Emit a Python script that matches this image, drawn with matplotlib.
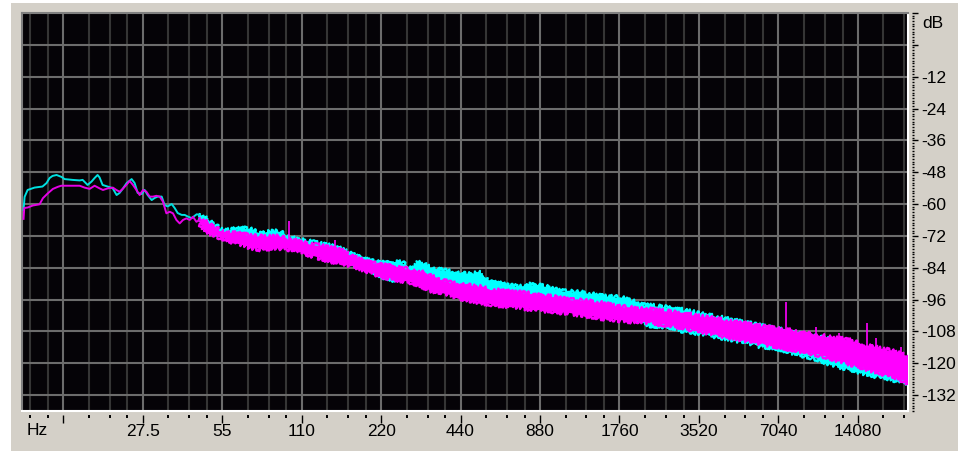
import matplotlib
matplotlib.use("Agg")
import matplotlib.pyplot as plt
import numpy as np
from matplotlib.patches import Rectangle
from matplotlib import transforms
from matplotlib.ticker import FixedLocator, NullFormatter

plt.rcParams['font.family'] = ['Liberation Sans', 'DejaVu Sans']
plt.rcParams['axes.unicode_minus'] = False

# ---------------- data ----------------
octave_freqs = [13.75, 27.5, 55, 110, 220, 440, 880, 1760, 3520, 7040, 14080]
octave_labels = ['', '27.5', '55', '110', '220', '440', '880', '1760', '3520', '7040', '14080']
db_ticks = [12, 0, -12, -24, -36, -48, -60, -72, -84, -96, -108, -120, -132]
db_labels = ['', '', '-12', '-24', '-36', '-48', '-60', '-72', '-84', '-96', '-108', '-120', '-132']

# low-frequency part (thin traces)
cyan_lf_freq = [9.73, 9.82, 10.08, 10.71, 11.48, 11.89, 12.21, 12.53, 12.98, 13.56,
                13.92, 14.92, 15.87, 16.29, 17.01, 17.62, 18.08, 18.56, 18.89, 19.39,
                20.25, 21.16, 21.91, 22.49, 23.09, 23.92, 24.98, 25.64, 26.33, 27.26,
                27.98, 28.73, 29.75, 30.54, 31.35, 32.46, 33.32, 34.20, 35.42, 36.36,
                37.33, 38.65, 39.68, 40.73, 42.18, 44.06, 45.23]
cyan_lf_db = [-62.2, -57.3, -54.7, -53.8, -53.4, -52.1, -50.2, -49.4, -49.05, -49.8,
              -50.6, -50.9, -51.1, -50.9, -52.8, -51.5, -50.2, -49.05, -50.0, -52.8,
              -53.4, -54.0, -56.6, -55.8, -54.3, -52.1, -50.6, -52.1, -55.8, -56.2,
              -54.7, -56.6, -58.5, -57.7, -57.2, -57.2, -60.4, -60.9, -60.0, -61.5,
              -63.4, -64.1, -64.1, -64.7, -65.3, -63.85, -64.1]

mag_lf_freq = [9.73, 9.79, 10.10, 10.55, 11.19, 11.52, 12.03, 12.57, 13.13, 13.52,
               14.54, 15.87, 16.57, 17.31, 18.08, 18.89, 19.45, 20.29, 21.21, 21.86,
               22.49, 23.10, 23.85, 24.55, 25.27, 26.03, 26.79, 27.6, 28.40, 29.23,
               30.09, 30.99, 31.90, 32.83, 33.82, 34.81, 35.83, 36.91, 37.99, 39.09,
               40.27, 41.45, 42.66, 43.95, 45.24]
mag_lf_db = [-65.6, -61.5, -61.3, -60.55, -60.1, -57.8, -55.95, -54.3, -53.5, -53.1,
             -53.1, -53.1, -53.8, -54.3, -53.1, -54.1, -54.7, -54.1, -53.8, -54.7,
             -55.35, -54.3, -52.8, -51.3, -52.8, -54.7, -56.6, -54.7, -55.35, -57.2,
             -57.2, -56.9, -57.2, -59.1, -63.5, -62.9, -63.5, -66.0, -67.3, -66.0,
             -65.4, -66.0, -64.8, -66.7, -66.0]

# higher-frequency part (noisy bands: upper / lower envelope)
band_freq = [45.2, 49.4, 53.9, 58.8, 64.2, 70.0, 76.4, 83.4, 91.0, 99.3,
             108.4, 118.3, 129.1, 140.9, 153.7, 167.8, 183.1, 199.8, 218.0, 237.9,
             259.7, 283.4, 309.2, 337.5, 368.3, 401.9, 438.6, 478.7, 522.4, 570.1,
             622.1, 678.9, 740.9, 808.5, 882.3, 962.9, 1051, 1147, 1251, 1365,
             1490, 1626, 1775, 1937, 2114, 2307, 2517, 2747, 2998, 3272,
             3571, 3897, 4252, 4641, 5064, 5527, 6031, 6582, 7183, 7839,
             8555, 9336, 10190, 11120, 12130, 13240, 14450, 15770, 17210, 18780,
             20490, 22050]
cyan_band_hi = [-63.8, -66.8, -69.4, -69.8, -69.4, -69.4, -71.3, -70.5, -70.5, -72.8,
                -73.6, -74.3, -75.1, -75.8, -76.9, -78.8, -80.3, -81.5, -82.2, -82.2,
                -81.8, -84.1, -81.8, -84.1, -84.9, -85.6, -86.4, -86.4, -86.0, -89.4,
                -90.1, -90.9, -91.3, -90.5, -90.9, -91.6, -92.8, -93.2, -93.5, -93.9,
                -94.7, -95.0, -95.4, -96.2, -98.1, -98.4, -98.8, -99.2, -99.9, -100.7,
                -101.4, -102.2, -102.9, -103.7, -104.5, -105.2, -106.0, -106.7, -107.5, -108.2,
                -109.0, -109.7, -110.5, -111.2, -112.0, -113.1, -114.3, -115.0, -115.8, -116.9,
                -118.0, -119.5]
cyan_band_lo = [-65.3, -69.8, -71.3, -72.0, -72.4, -72.8, -73.6, -73.6, -74.3, -75.1,
                -75.8, -76.6, -77.3, -78.5, -80.0, -81.8, -83.4, -84.9, -86.7, -88.6,
                -87.9, -86.7, -89.4, -88.6, -89.4, -90.1, -90.9, -91.3, -92.4, -93.2,
                -93.9, -94.7, -95.0, -95.4, -95.8, -96.2, -96.9, -97.7, -98.1, -98.4,
                -98.8, -99.2, -99.9, -101.8, -104.5, -105.6, -106.0, -106.3, -107.5, -108.2,
                -108.6, -109.4, -110.1, -110.9, -111.6, -112.4, -113.5, -113.9, -114.6, -115.8,
                -116.9, -117.6, -118.8, -120.3, -121.4, -122.2, -123.3, -124.4, -125.2, -125.9,
                -126.7, -127.8]
mag_band_hi = [-65.3, -67.9, -70.2, -70.9, -71.3, -72.0, -72.4, -72.4, -72.4, -73.6,
               -74.3, -75.4, -75.8, -76.6, -77.3, -79.6, -81.1, -82.2, -83.0, -83.4,
               -84.1, -84.9, -85.6, -87.1, -88.6, -89.8, -90.5, -90.9, -91.3, -92.4,
               -92.8, -93.2, -93.5, -93.9, -94.7, -95.0, -95.4, -96.2, -96.5, -96.9,
               -97.3, -98.1, -98.8, -99.2, -99.6, -99.9, -100.3, -100.7, -101.4, -101.8,
               -102.6, -102.9, -103.7, -104.5, -104.8, -105.6, -106.3, -106.7, -107.5, -107.8,
               -108.6, -109.0, -109.7, -110.5, -110.9, -111.6, -113.1, -113.9, -114.6, -115.4,
               -116.5, -117.6]
mag_band_lo = [-67.5, -70.9, -72.4, -73.9, -75.1, -76.2, -76.9, -76.6, -76.6, -76.9,
               -77.3, -79.2, -80.3, -81.5, -81.8, -83.0, -84.1, -85.6, -87.1, -87.9,
               -88.6, -89.4, -90.5, -92.4, -93.2, -94.3, -95.4, -96.2, -96.9, -97.7,
               -98.1, -98.4, -98.8, -99.6, -99.9, -100.3, -100.7, -101.1, -101.8, -102.2,
               -102.9, -103.3, -103.7, -104.1, -104.1, -104.5, -105.2, -105.6, -106.3, -107.1,
               -107.8, -108.6, -109.4, -110.1, -110.9, -111.6, -112.4, -113.1, -113.9, -114.6,
               -115.4, -116.1, -116.9, -118.0, -119.2, -120.3, -121.4, -122.5, -123.7, -124.8,
               -125.9, -128.2]

# narrow spikes (peak levels)
cyan_spike_freq = [252, 314, 530]
cyan_spike_db = [-81.1, -81.8, -85.9]
mag_spike_freq = [98.4, 147, 7535, 9790, 11970, 12830, 15280, 16540, 18040, 20570]
mag_spike_db = [-66.4, -73.4, -96.9, -106.3, -108.6, -111.2, -104.8, -110.5, -115.0, -113.9]

# ---------------- figure ----------------
W, H = 958, 451
fig = plt.figure(figsize=(W / 100, H / 100), dpi=100, facecolor='white')
fig.patches.append(Rectangle((11 / W, 0), 1, 448 / H, transform=fig.transFigure,
                             facecolor='#d4d0c8', edgecolor='none', zorder=-10))

ax = fig.add_axes([22 / W, 40 / H, 886 / W, 398 / H])
ax.set_facecolor('#050307')
ax.set_xscale('log')
ax.set_xlim(9.6, 21800)
ax.set_ylim(-138, 12)

minor_freqs = [f * m for f in [6.875] + octave_freqs for m in (1.25, 1.5, 1.75)]
minor_freqs = [f for f in minor_freqs if 9.6 < f < 21800]

ax.set_xticks(octave_freqs)
ax.xaxis.set_minor_locator(FixedLocator(minor_freqs))
ax.xaxis.set_minor_formatter(NullFormatter())
ax.set_yticks(db_ticks[1:])
ax.tick_params(which='both', length=0, labelbottom=False, labelleft=False)
ax.set_axisbelow(True)
ax.grid(which='major', axis='x', color='#6c6c6c', lw=1.5)
ax.grid(which='minor', axis='x', color='#353535', lw=1.5)
ax.grid(which='major', axis='y', color='#6c6c6c', lw=1.5)

for side in ('left', 'top'):
    ax.spines[side].set_color('#808080')
    ax.spines[side].set_linewidth(1.5)
for side in ('right', 'bottom'):
    ax.spines[side].set_color('white')
    ax.spines[side].set_linewidth(1.5)


def noisy_band(freq, hi, lo, color, z):
    ax.fill_between(freq, hi, lo, facecolor=color, edgecolor='none', zorder=z)
    # ragged edges: band outlines drawn with a jittery stroke (style only)
    for edge in (hi, lo):
        ln, = ax.plot(freq, edge, color=color, lw=1.6, zorder=z)
        ln.set_sketch_params(scale=2.5, length=2.0, randomness=3.0)


# data
noisy_band(band_freq, cyan_band_hi, cyan_band_lo, '#00ffff', 3)
ax.plot(cyan_lf_freq, cyan_lf_db, color='#00e0e0', lw=1.4, zorder=3)
ax.vlines(cyan_spike_freq, np.interp(cyan_spike_freq, band_freq, cyan_band_lo),
          cyan_spike_db, color='#00ffff', lw=1.2, zorder=3)

noisy_band(band_freq, mag_band_hi, mag_band_lo, '#ff00ff', 4)
ax.plot(mag_lf_freq, mag_lf_db, color='#e600e6', lw=1.4, zorder=4)
ax.vlines(mag_spike_freq, np.interp(mag_spike_freq, band_freq, mag_band_lo),
          mag_spike_db, color='#ff00ff', lw=1.2, zorder=4)

# bottom scale
secx = ax.secondary_xaxis(-4 / 398)
secx.set_xticks(octave_freqs)
secx.set_xticklabels(octave_labels)
secx.xaxis.set_minor_locator(FixedLocator(minor_freqs))
secx.xaxis.set_minor_formatter(NullFormatter())
secx.tick_params(which='major', length=5.5, width=1.0, color='black',
                 labelsize=12.5, pad=1.0, labelcolor='black')
secx.tick_params(which='minor', length=2.0, width=1.4, color='black')
for s in secx.spines.values():
    s.set_visible(False)

# right scale
secy = ax.secondary_yaxis(1 + 4 / 886)
secy.set_yticks(db_ticks)
secy.set_yticklabels(db_labels)
secy.yaxis.set_minor_locator(FixedLocator([v for v in range(-138, 13) if v % 12 != 0]))
secy.yaxis.set_minor_formatter(NullFormatter())
secy.tick_params(which='major', length=4.5, width=1.0, color='black',
                 labelsize=12.5, pad=2.0, labelcolor='black')
secy.tick_params(which='minor', length=1.2, width=1.0, color='black')
for s in secy.spines.values():
    s.set_visible(False)

bx = transforms.blended_transform_factory(ax.transData, ax.transAxes)
ax.text(10.96, -0.031, 'Hz', transform=bx, ha='center', va='top', fontsize=12.5,
        color='black', clip_on=False)
by = transforms.blended_transform_factory(ax.transAxes, ax.transData)
ax.text(1.0158, 8.2, 'dB', transform=by, ha='left', va='center', fontsize=12.5,
        color='black', clip_on=False)

fig.savefig('out.png', dpi=100, facecolor=fig.get_facecolor())
